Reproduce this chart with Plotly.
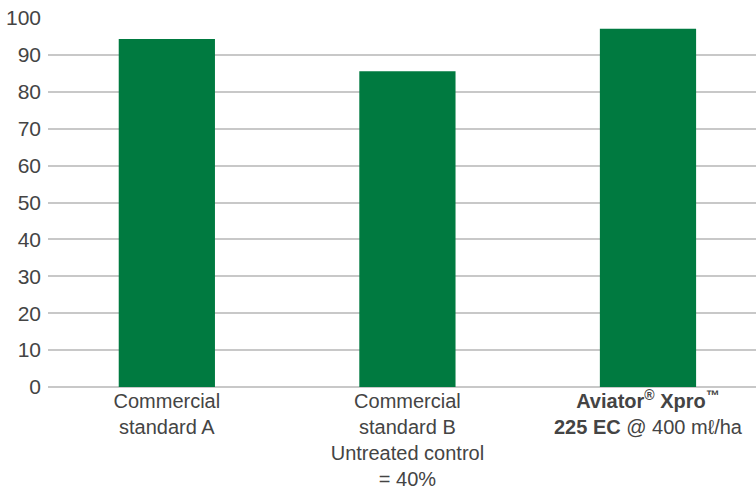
import plotly.graph_objects as go

categories = [
    "Commercial<br>standard A",
    "Commercial<br>standard B<br>Untreated control<br>= 40%",
    "<b>Aviator<sup>®</sup> Xpro<sup>™</sup></b><br><b>225 EC</b> @ 400 mℓ/ha",
]
values = [94.3, 85.6, 97.1]
y_ticks = [0, 10, 20, 30, 40, 50, 60, 70, 80, 90, 100]

fig = go.Figure(
    go.Bar(
        x=categories,
        y=values,
        marker=dict(color="#007A40", line=dict(width=0)),
        width=0.4,
    )
)

fig.update_layout(
    width=756,
    height=493,
    margin=dict(l=48, r=0, t=18, b=106),
    paper_bgcolor="white",
    plot_bgcolor="white",
    font=dict(family="Liberation Sans, Arial, sans-serif", size=20, color="#444444"),
    showlegend=False,
    xaxis=dict(
        range=[-0.494, 2.449],
        showgrid=False,
        showline=False,
        ticks="",
        tickfont=dict(size=20, color="#444444"),
    ),
    yaxis=dict(
        range=[0, 100],
        tickvals=y_ticks,
        showgrid=True,
        gridcolor="#C8C8C8",
        gridwidth=1.5,
        zeroline=True,
        zerolinecolor="#C8C8C8",
        zerolinewidth=1.5,
        showline=False,
        ticks="",
        ticklabelstandoff=6,
        tickfont=dict(size=21, color="#444444"),
    ),
)

fig.write_html("out.html")
